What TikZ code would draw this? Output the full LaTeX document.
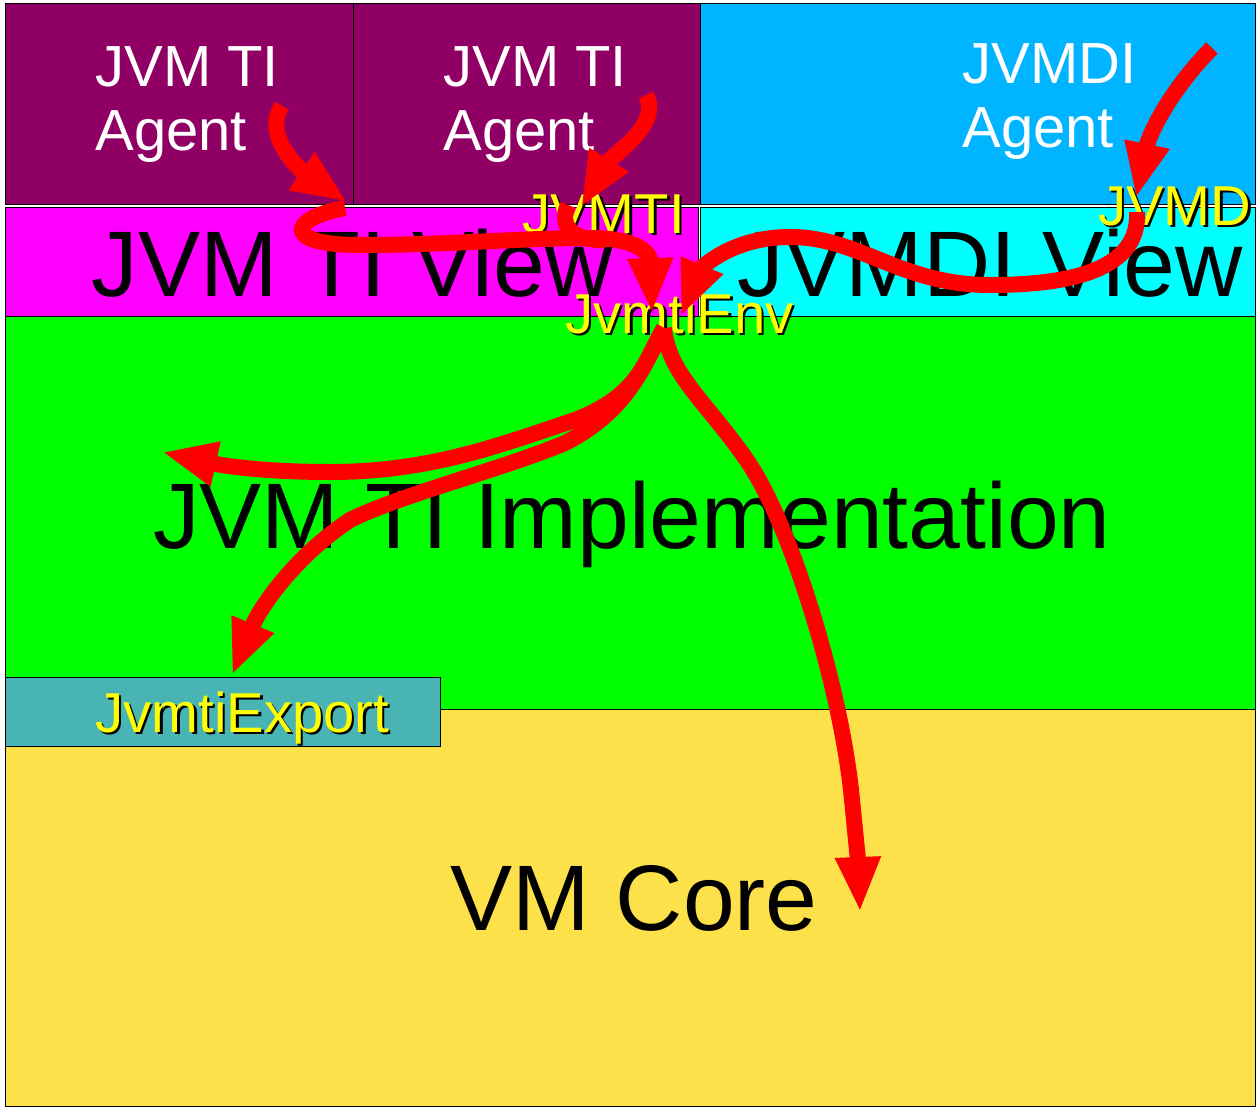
\documentclass[tikz,border=0pt]{standalone}
\usepackage{fontspec}
\setmainfont{Liberation Sans}
\usepackage{xcolor}
\usetikzlibrary{arrows.meta}

\definecolor{agentpurple}{RGB}{144,0,100}
\definecolor{jvmdiblue}{RGB}{0,180,255}
\definecolor{viewmagenta}{RGB}{255,0,255}
\definecolor{viewcyan}{RGB}{0,255,255}
\definecolor{implgreen}{RGB}{0,255,0}
\definecolor{coreyellow}{RGB}{252,225,74}
\definecolor{exportteal}{RGB}{72,180,180}
\definecolor{tagyellow}{RGB}{255,255,0}
\definecolor{flowred}{RGB}{255,0,0}

\begin{document}
\begin{tikzpicture}[x=0.02cm, y=-0.02cm,
    layer/.style={draw=black, line width=0.4pt},
    agenttext/.style={text=white, align=left, inner sep=0pt, anchor=north west,
        font=\fontsize{33}{36.8}\selectfont},
    bigtext/.style={text=black, inner sep=0pt, anchor=base,
        font=\fontsize{53}{60}\selectfont},
    tag/.style={text=tagyellow, inner sep=0pt, anchor=base west,
        font=\fontsize{32}{36}\selectfont},
    tagshadow/.style={tag, text=black, xshift=0.05cm, yshift=-0.05cm},
    band/.style={draw=flowred, line width=0.32cm},
    flow/.style={band, -{Triangle[width=0.84cm, length=1.1cm]}},
]

    % Page and clip
    \clip (0,0) rectangle (1256,1108);
    \fill[white] (0,0) rectangle (1256,1108);

    % Layers, bottom up
    \draw[layer, fill=coreyellow]  (5,709) rectangle (1255,1106);
    \draw[layer, fill=implgreen]   (5,316) rectangle (1255,709);
    \draw[layer, fill=exportteal]  (5,677) rectangle (440,746);
    \draw[layer, fill=viewmagenta] (5,207) rectangle (698,316);
    \draw[layer, fill=viewcyan]    (700,207) rectangle (1255,316);
    \draw[layer, fill=agentpurple] (5,3) rectangle (353,204);
    \draw[layer, fill=agentpurple] (353,3) rectangle (700,204);
    \draw[layer, fill=jvmdiblue]   (700,3) rectangle (1255,204);

    % Layer names
    \node[agenttext] (agentA) at (95,46)  {JVM TI\\Agent};
    \node[agenttext] (agentB) at (443,46) {JVM TI\\Agent};
    \node[agenttext] (agentD) at (962,43) {JVMDI\\Agent};
    \node[bigtext] (tiView)  at (352,296)  {JVM TI View};
    \node[bigtext] (diView)  at (990,296)  {JVMDI View};
    \node[bigtext] (tiImpl)  at (632,548)  {JVM TI Implementation};
    \node[bigtext] (vmCore)  at (634,930)  {VM Core};

    % Yellow interface labels with drop shadow
    \node[tagshadow] (jvmtiS) at (522,233) {JVMTI};
    \node[tag]       (jvmti)  at (522,233) {JVMTI};
    \node[tagshadow] (jvmdiS) at (1098,225) {JVMDI};
    \node[tag]       (jvmdi)  at (1098,225) {JVMDI};
    \node[tagshadow] (envS)   at (565,333) {JvmtiEnv};
    \node[tag]       (env)    at (565,333) {JvmtiEnv};
    \node[tagshadow] (expS)   at (95,732)  {JvmtiExport};
    \node[tag]       (exp)    at (95,732)  {JvmtiExport};

    % Start and end points of the call flows
    \coordinate (aOut)   at (282,106);
    \coordinate (aIn)    at (347,202);
    \coordinate (bOut)   at (646,95);
    \coordinate (bIn)    at (581,207);
    \coordinate (dOut)   at (1212,48);
    \coordinate (dIn)    at (1136,198);
    \coordinate (tiLoop) at (345,208);
    \coordinate (tiJoin) at (568,205);
    \coordinate (diLoop) at (1137,212);
    \coordinate (envInA) at (652,313);
    \coordinate (envInB) at (681,316);
    \coordinate (envOut) at (664,328);
    \coordinate (implIn) at (162,452);
    \coordinate (expIn)  at (232,675);
    \coordinate (coreIn) at (860,912);

    % Agents down into the views
    \draw[flow] (aOut) .. controls (262,135) and (300,170) .. (aIn);
    \draw[flow] (bOut) .. controls (662,125) and (612,155) .. (bIn);
    \draw[flow] (dOut) .. controls (1175,85) and (1150,130) .. (dIn);

    % Views into JvmtiEnv
    \draw[flow] (tiLoop) .. controls (290,218) and (280,245) .. (360,245)
        .. controls (450,245) and (520,238) .. (590,238)
        .. controls (635,238) and (650,252) .. (envInA);
    \draw[band] (tiJoin) .. controls (558,228) and (575,241) .. (605,240);
    \draw[flow] (diLoop) .. controls (1140,270) and (1070,285) .. (990,285)
        .. controls (900,285) and (860,237) .. (790,237)
        .. controls (730,237) and (700,270) .. (envInB);

    % JvmtiEnv out to the implementation, export and core
    \draw[flow] (envOut) .. controls (645,360) and (640,395) .. (575,420)
        .. controls (500,445) and (430,472) .. (330,472)
        .. controls (260,472) and (220,465) .. (implIn);
    \draw[flow] (envOut) .. controls (645,362) and (630,410) .. (565,443)
        .. controls (500,470) and (400,495) .. (350,520)
        .. controls (290,560) and (258,612) .. (expIn);
    \draw[flow] (envOut) .. controls (668,375) and (710,405) .. (750,465)
        .. controls (795,535) and (840,690) .. (851,790)
        .. controls (855,830) and (858,860) .. (coreIn);

\end{tikzpicture}
\end{document}
